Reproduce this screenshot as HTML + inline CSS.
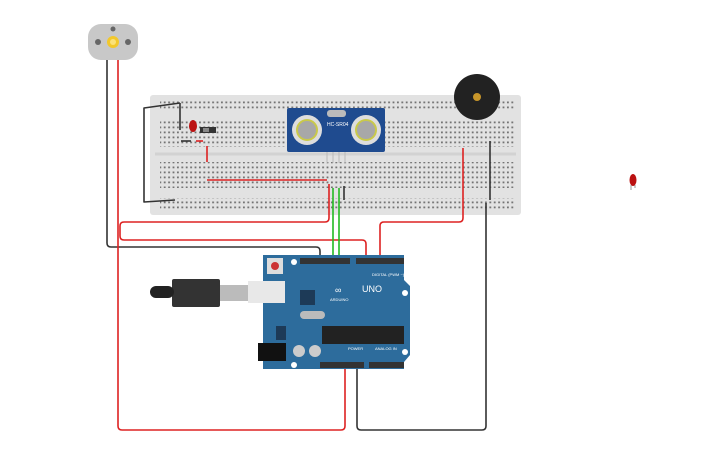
<!DOCTYPE html>
<html><head><meta charset="utf-8"><style>
html,body{margin:0;padding:0;background:#fff;width:725px;height:453px;overflow:hidden}
svg{display:block}
</style></head><body>
<svg width="725" height="453" viewBox="0 0 725 453" xmlns="http://www.w3.org/2000/svg" font-family="Liberation Sans, sans-serif">
<defs>
<pattern id="h" x="0" y="0" width="4.4" height="5" patternUnits="userSpaceOnUse"><rect x="1" y="1.5" width="1.8" height="1.8" fill="#555"/></pattern>
</defs>
<!-- breadboard -->
<rect x="150" y="95" width="371" height="120" rx="3" fill="#e2e2e2"/>
<rect x="160" y="100" width="355" height="11" fill="url(#h)" opacity="0.8"/>
<rect x="160" y="121" width="355" height="26" fill="url(#h)" opacity="0.8"/>
<rect x="160" y="162" width="355" height="26" fill="url(#h)" opacity="0.8"/>
<rect x="160" y="198" width="355" height="11" fill="url(#h)" opacity="0.8"/>
<line x1="155" y1="154" x2="516" y2="154" stroke="#d2d2d2" stroke-width="3"/>
<!-- motor -->
<rect x="88" y="24" width="50" height="36" rx="13" fill="#c8c8c8"/>
<circle cx="113" cy="42" r="6" fill="#f2c82c"/>
<circle cx="113" cy="42" r="3" fill="#fbe27a"/>
<circle cx="98" cy="42" r="3" fill="#666"/><circle cx="128" cy="42" r="3" fill="#666"/><circle cx="113" cy="29" r="2.5" fill="#666"/>
<!-- wires -->
<g fill="none" stroke-width="1.6" stroke-linejoin="round">
<path d="M107 60 V243 Q107 247 111 247 H316 Q320 247 320 251 V258" stroke="#333"/>
<path d="M118 60 V426 Q118 430 122 430 H341 Q345 430 345 426 V365" stroke="#d22"/>
<path d="M180 103 L144 108 V202 L175 200" stroke="#333"/>
<path d="M180 103 V130" stroke="#333"/>
<path d="M329 184 V218 Q329 222 325 222 H124 Q120 222 120 226 V236 Q120 240 124 240 H362 Q366 240 366 244 V258" stroke="#d22"/>
<path d="M463 148 V218 Q463 222 459 222 H384 Q380 222 380 226 V258" stroke="#d22"/>
<path d="M333 188 V258 M339 188 V258" stroke="#2b2"/>
<path d="M344 186 V200" stroke="#333"/>
<path d="M490 141 V200" stroke="#333"/>
<path d="M486 203 V426 Q486 430 482 430 H361 Q357 430 357 426 V365" stroke="#333"/>
<path d="M207 180 H327" stroke="#d22"/>
<path d="M207 146 V162" stroke="#d22"/>
<path d="M181 141 H191" stroke="#333"/>
<path d="M196 141 H203" stroke="#d22"/>
</g>
<!-- LED + switch -->
<ellipse cx="193" cy="126" rx="4" ry="6" fill="#b11"/>
<rect x="200" y="127" width="16" height="6" fill="#333"/><rect x="203" y="128" width="6" height="4" fill="#888"/>
<!-- sensor -->
<rect x="287" y="108" width="98" height="44" rx="2" fill="#1f4b8f"/>
<circle cx="307" cy="130" r="15" fill="#ddd"/><circle cx="307" cy="130" r="11" fill="#c9c94a"/><circle cx="307" cy="130" r="9" fill="#a8a8a8"/>
<circle cx="366" cy="130" r="15" fill="#ddd"/><circle cx="366" cy="130" r="11" fill="#c9c94a"/><circle cx="366" cy="130" r="9" fill="#a8a8a8"/>
<rect x="327" y="110" width="19" height="7" rx="3" fill="#bbb"/>
<text x="327" y="126" font-size="5" fill="#fff">HC-SR04</text>
<g stroke="#bbb" stroke-width="1"><path d="M327 152 V163 M333 152 V163 M339 152 V163 M345 152 V163"/></g>
<!-- buzzer -->
<circle cx="477" cy="97" r="23" fill="#222"/><circle cx="477" cy="97" r="4" fill="#c8962a"/>
<!-- isolated LED -->
<ellipse cx="633" cy="180" rx="3.5" ry="6" fill="#b11"/>
<path d="M631 185 V190 M635 185 V188" stroke="#999" stroke-width="1"/>
<!-- arduino -->
<path d="M263 255 H404 V280 L410 286 V355 L404 362 V369 H263 Z" fill="#2d6c9c"/>
<rect x="300" y="258" width="50" height="6" fill="#333"/><rect x="356" y="258" width="48" height="6" fill="#333"/>
<rect x="320" y="362" width="44" height="6" fill="#333"/><rect x="369" y="362" width="35" height="6" fill="#333"/>
<rect x="267" y="258" width="16" height="16" fill="#ddd"/><circle cx="275" cy="266" r="4" fill="#c33"/>
<circle cx="294" cy="262" r="3" fill="#fff"/><circle cx="405" cy="293" r="3" fill="#fff"/><circle cx="405" cy="352" r="3" fill="#fff"/><circle cx="294" cy="365" r="3" fill="#fff"/>
<rect x="322" y="326" width="82" height="18" fill="#222"/>
<rect x="300" y="311" width="25" height="8" rx="4" fill="#bbb"/>
<rect x="300" y="290" width="15" height="15" fill="#1d3a57"/>
<rect x="258" y="343" width="28" height="18" fill="#111"/>
<circle cx="299" cy="351" r="6" fill="#ccc"/><circle cx="315" cy="351" r="6" fill="#ccc"/>
<rect x="276" y="326" width="10" height="14" fill="#1d3a57"/>
<text x="335" y="293" font-size="9" fill="#fff">∞</text><text x="362" y="292" font-size="9" fill="#fff">UNO</text>
<text x="330" y="301" font-size="4" fill="#fff">ARDUINO</text>
<text x="372" y="276" font-size="4" fill="#fff">DIGITAL (PWM ~)</text>
<text x="348" y="350" font-size="4" fill="#fff">POWER</text><text x="375" y="350" font-size="4" fill="#fff">ANALOG IN</text>
<!-- USB -->
<rect x="248" y="281" width="37" height="22" fill="#e8e8e8"/>
<rect x="220" y="285" width="28" height="16" fill="#bbb"/>
<rect x="172" y="279" width="48" height="28" rx="2" fill="#333"/>
<rect x="150" y="286" width="24" height="12" rx="6" fill="#222"/>
</svg>
</body></html>
